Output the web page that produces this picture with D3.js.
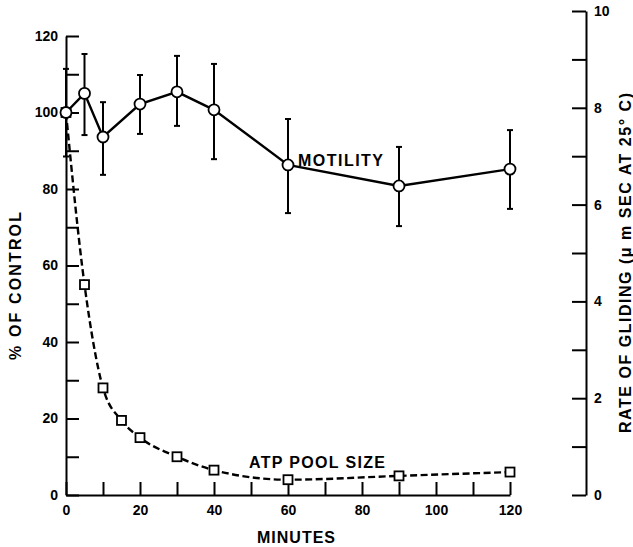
<!DOCTYPE html>
<html>
<head>
<meta charset="utf-8">
<script src="https://cdn.jsdelivr.net/npm/d3@7"></script>
<style>
  body { margin: 0; background: #fff; }
  svg { font-family: "Liberation Sans", Arial, sans-serif; font-weight: bold; }
  .axis path, .axis line { stroke: #000; stroke-width: 2; }
  .axis text { font-size: 14px; fill: #000; }
</style>
</head>
<body>
<svg class="chart"></svg>
<script>
var width = 633,
    height = 547;

// motility (% of control), mean with error bar ends
var motMinutes = [0, 5, 10, 20, 30, 40, 60, 90, 120];
var motility   = [100, 105, 93.6, 102.2, 105.4, 100.7, 86.3, 80.8, 85.2];
var motHigh    = [111.4, 115.3, 102.7, 109.8, 114.8, 112.7, 98.3, 91, 95.4];
var motLow     = [88.5, 94.1, 83.7, 94.4, 96.5, 87.8, 73.7, 70.3, 74.8];

// ATP pool size (% of control)
var atpMinutes = [0, 5, 10, 15, 20, 30, 40, 60, 90, 120];
var atpPool    = [100, 55, 28, 19.5, 15, 10, 6.5, 4, 5, 6];

var xTicks = d3.range(0, 121, 10);
var yTicks = d3.range(0, 121, 10);
var rTicks = d3.range(0, 11, 1);

var x = d3.scaleLinear().domain([0, 120]).range([66, 510]);
var y = d3.scaleLinear().domain([0, 120]).range([495, 36]);
// right axis: rate of gliding
var yr = d3.scaleLinear().domain([0, 10]).range([495, 11]);

var svg = d3.select(".chart")
    .attr("width", width)
    .attr("height", height);

svg.append("g")
    .attr("class", "axis")
    .attr("transform", "translate(0,495)")
    .call(d3.axisBottom(x).tickValues(xTicks).tickSizeInner(-13).tickSizeOuter(0)
        .tickPadding(10).tickFormat(d => d % 20 === 0 ? d : ""));

svg.append("g")
    .attr("class", "axis")
    .attr("transform", "translate(66,0)")
    .call(d3.axisLeft(y).tickValues(yTicks).tickSizeInner(-13).tickSizeOuter(0)
        .tickPadding(8).tickFormat(d => d % 20 === 0 ? d : ""));

svg.append("g")
    .attr("class", "axis")
    .attr("transform", "translate(586,0)")
    .call(d3.axisRight(yr).tickValues(rTicks).tickSizeInner(-14).tickSizeOuter(0)
        .tickPadding(8).tickFormat(d => d % 2 === 0 ? d : ""));

// axis titles
svg.append("text")
    .attr("x", 296).attr("y", 543)
    .attr("text-anchor", "middle")
    .attr("font-size", 16)
    .attr("textLength", 78)
    .text("MINUTES");

svg.append("text")
    .attr("transform", "translate(21,286) rotate(-90)")
    .attr("text-anchor", "middle")
    .attr("font-size", 16)
    .attr("textLength", 148)
    .text("% OF CONTROL");

svg.append("text")
    .attr("transform", "translate(631,263) rotate(-90)")
    .attr("text-anchor", "middle")
    .attr("font-size", 16)
    .attr("textLength", 340)
    .text("RATE OF GLIDING (\u03BC m SEC AT 25\u00B0 C)");

// ATP pool size, dashed smooth curve with squares
var atp = atpMinutes.map((m, i) => ({m: m, v: atpPool[i]}));
svg.append("path")
    .datum(atp)
    .attr("fill", "none")
    .attr("stroke", "#000")
    .attr("stroke-width", 2.4)
    .attr("stroke-dasharray", "7,3.5")
    .attr("d", d3.line().x(d => x(d.m)).y(d => y(d.v)).curve(d3.curveMonotoneX));

svg.selectAll(".atp")
    .data(atp)
    .enter().append("rect")
        .attr("class", "atp")
        .attr("x", d => x(d.m) - 4.5)
        .attr("y", d => y(d.v) - 4.5)
        .attr("width", 9)
        .attr("height", 9)
        .attr("fill", "#fff")
        .attr("stroke", "#000")
        .attr("stroke-width", 1.8);

// motility, error bars + solid line with open circles
var mot = motMinutes.map((m, i) => ({m: m, v: motility[i], hi: motHigh[i], lo: motLow[i]}));

var bars = svg.selectAll(".err")
    .data(mot)
    .enter().append("g")
        .attr("class", "err")
        .attr("stroke", "#000")
        .attr("stroke-width", 2);
bars.append("line")
    .attr("x1", d => x(d.m)).attr("x2", d => x(d.m))
    .attr("y1", d => y(d.hi)).attr("y2", d => y(d.lo));
bars.append("line")
    .attr("x1", d => x(d.m) - 3).attr("x2", d => x(d.m) + 3)
    .attr("y1", d => y(d.hi)).attr("y2", d => y(d.hi));
bars.append("line")
    .attr("x1", d => x(d.m) - 3).attr("x2", d => x(d.m) + 3)
    .attr("y1", d => y(d.lo)).attr("y2", d => y(d.lo));

svg.append("path")
    .datum(mot)
    .attr("fill", "none")
    .attr("stroke", "#000")
    .attr("stroke-width", 2.4)
    .attr("d", d3.line().x(d => x(d.m)).y(d => y(d.v)));

svg.selectAll(".mot")
    .data(mot)
    .enter().append("circle")
        .attr("class", "mot")
        .attr("cx", d => x(d.m))
        .attr("cy", d => y(d.v))
        .attr("r", 5.5)
        .attr("fill", "#fff")
        .attr("stroke", "#000")
        .attr("stroke-width", 1.8);

// series labels
svg.append("text")
    .attr("x", 298).attr("y", 166)
    .attr("font-size", 16)
    .attr("textLength", 85)
    .text("MOTILITY");

svg.append("text")
    .attr("x", 249).attr("y", 468)
    .attr("font-size", 16)
    .attr("textLength", 136)
    .text("ATP POOL SIZE");
</script>
</body>
</html>
